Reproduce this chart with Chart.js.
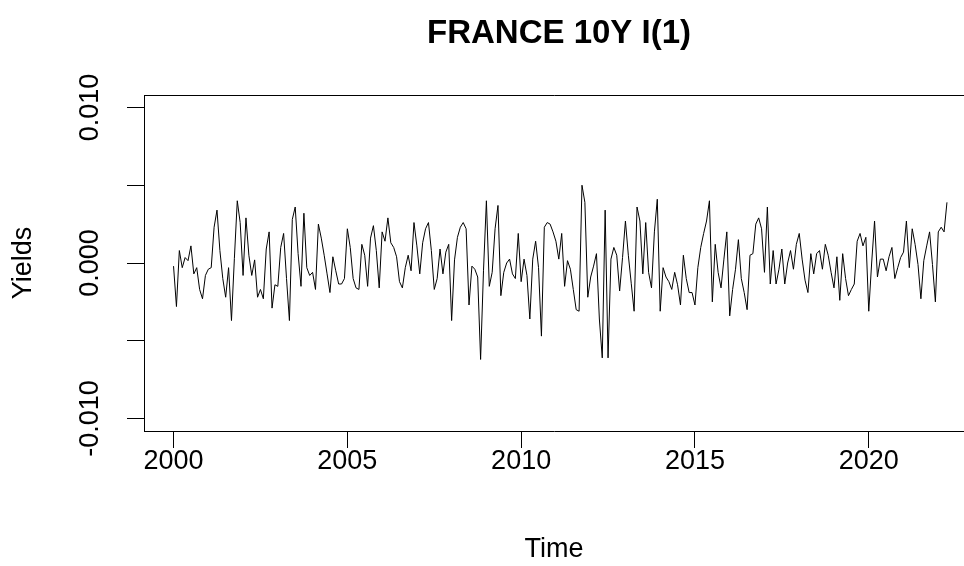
<!DOCTYPE html>
<html>
<head>
<meta charset="utf-8">
<script src="https://cdn.jsdelivr.net/npm/chart.js@4/dist/chart.umd.min.js"></script>
<style>
  html, body { margin: 0; padding: 0; background: #fff; overflow: hidden; }
  #wrap { width: 964px; height: 566px; position: relative; }
</style>
</head>
<body>
<div id="wrap"><canvas id="c" width="964" height="566"></canvas></div>
<script>
// Text
const chartTitle = 'FRANCE 10Y I(1)';
const xAxisTitle = 'Time';
const yAxisTitle = 'Yields';

// Monthly series, first observation January 2000
const startYear = 2000;
const periodsPerYear = 12;

// Axis ticks
const xTickValues = [2000, 2005, 2010, 2015, 2020];
const yTickValues = [-0.010, -0.005, 0.000, 0.005, 0.010];
const yTickLabels = ['-0.010', '', '0.000', '', '0.010'];

// First differences of the French 10Y yield, one row per year
const yields = [
  -0.0002, -0.0028, 0.0008, -0.0003, 0.00035, 0.00015, 0.0011, -0.0007, -0.0003, -0.0017, -0.0023, -0.0008,
  -0.0004, -0.0003, 0.0023, 0.0034, 0.0008, -0.0010, -0.0022, -0.0003, -0.0037, 0.0003, 0.0040, 0.0026,
  -0.0008, 0.0029, 0.0005, -0.0008, 0.0002, -0.0022, -0.0017, -0.0023, 0.0009, 0.0020, -0.0029, -0.0014,
  -0.0015, 0.0010, 0.0019, -0.0010, -0.0037, 0.0028, 0.0036, 0.0006, -0.0015, 0.0032, -0.0003, -0.0008,
  -0.0006, -0.0017, 0.0025, 0.0016, 0.0005, -0.0007, -0.0019, 0.0004, -0.0005, -0.00135, -0.00135, -0.0010,
  0.0022, 0.0010, -0.0010, -0.0016, -0.0017, 0.0012, 0.0005, -0.0015, 0.0016, 0.0024, 0.0008, -0.0016,
  0.0020, 0.0014, 0.0029, 0.0013, 0.0010, 0.0004, -0.0012, -0.0016, -0.0003, 0.0005, -0.0005, 0.0026,
  0.0011, -0.0007, 0.0013, 0.0022, 0.0026, 0.0008, -0.0017, -0.0010, 0.0009, -0.0007, 0.0007, 0.0012,
  -0.0037, 0.0002, 0.00165, 0.0023, 0.0026, 0.0022, -0.0027, -0.0002, -0.0004, -0.0009, -0.0062, -0.0005,
  0.0040, -0.0015, -0.0006, 0.0022, 0.0037, -0.0021, -0.0006, 0.0000, 0.00025, -0.0007, -0.0010, 0.0019,
  -0.0012, 0.00025, -0.0008, -0.0036, 0.00025, 0.0014, -0.0003, -0.0047, 0.0023, 0.0026, 0.0025, 0.0020,
  0.0014, 0.00025, 0.0019, -0.0015, 0.00015, -0.0004, -0.0017, -0.0030, -0.0031, 0.0050, 0.0039, -0.0022,
  -0.0009, -0.0002, 0.0006, -0.0036, -0.0061, 0.0034, -0.0061, 0.00025, 0.0010, 0.0005, -0.0018, 0.00035,
  0.0027, 0.0005, -0.0013, -0.0031, 0.0036, 0.0027, -0.0007, 0.0026, -0.0006, -0.0016, 0.0020, 0.0041,
  -0.0031, -0.0003, -0.0009, -0.0012, -0.0017, -0.0006, -0.0014, -0.0027, 0.0005, -0.0010, -0.0019, -0.0019,
  -0.0027, -0.0003, 0.0010, 0.0019, 0.0027, 0.0040, -0.0025, 0.0012, -0.0006, -0.0016, 0.00025, 0.0020,
  -0.0034, -0.0017, -0.0004, 0.0015, -0.0010, -0.0019, -0.0030, 0.0005, 0.0006, 0.0025, 0.0029, 0.0022,
  -0.0006, 0.0036, -0.00135, 0.0008, -0.00135, -0.0004, 0.0009, -0.00135, 0.0000, 0.0008, -0.0004, 0.0012,
  0.0019, 0.00025, -0.0011, -0.0019, 0.0006, -0.0007, 0.0006, 0.0008, -0.0004, 0.0012, 0.0005, -0.0006,
  -0.0016, 0.0004, -0.0024, 0.0006, -0.0010, -0.0021, -0.0017, -0.00135, 0.0014, 0.0019, 0.0011, 0.00165,
  -0.0031, 0.0000, 0.0027, -0.0009, 0.00025, 0.00025, -0.0005, 0.0004, 0.0010, -0.0010, -0.0003, 0.00035,
  0.0007, 0.0027, -0.0003, 0.0022, 0.0012, -0.0001, -0.0023, 0.00015, 0.0011, 0.0020, -0.0001, -0.0025,
  0.0020, 0.0023, 0.0020, 0.0039
];

const points = yields.map((v, i) => ({ x: startYear + i / periodsPerYear, y: v }));

const FONT = "'Liberation Sans', Arial, Helvetica, sans-serif";

// Plot frame (top edge) plus rotated y tick labels and the main title
const framePlugin = {
  id: 'frame',
  afterDraw(chart) {
    const { ctx, chartArea } = chart;
    const yScale = chart.scales.y;
    ctx.save();
    ctx.strokeStyle = '#000';
    ctx.lineWidth = 1;
    ctx.beginPath();
    ctx.moveTo(chartArea.left + 0.5, chartArea.top + 0.5);
    ctx.lineTo(chartArea.right, chartArea.top + 0.5);
    ctx.stroke();

    ctx.fillStyle = '#000';
    ctx.font = '27px ' + FONT;
    ctx.textAlign = 'center';
    ctx.textBaseline = 'middle';
    yTickValues.forEach((v, i) => {
      if (!yTickLabels[i]) return;
      const py = yScale.getPixelForValue(v);
      ctx.save();
      ctx.translate(91, py);
      ctx.rotate(-Math.PI / 2);
      ctx.fillText(yTickLabels[i], 0, 0);
      ctx.restore();
    });

    ctx.font = 'bold 33px ' + FONT;
    ctx.textBaseline = 'alphabetic';
    ctx.fillText(chartTitle, 559, 43);
    ctx.restore();
  }
};

new Chart(document.getElementById('c'), {
  type: 'line',
  data: {
    datasets: [{
      data: points,
      borderColor: '#000',
      borderWidth: 1,
      pointRadius: 0,
      tension: 0,
      fill: false
    }]
  },
  options: {
    responsive: false,
    animation: false,
    devicePixelRatio: 1,
    layout: { padding: { top: 95, left: 0, right: 0, bottom: 0 } },
    plugins: { legend: { display: false }, tooltip: { enabled: false }, title: { display: false } },
    scales: {
      x: {
        type: 'linear',
        min: 1999.15,
        max: 2022.74,
        afterBuildTicks: s => { s.ticks = xTickValues.map(v => ({ value: v })); },
        afterFit: s => { s.height = 135; },
        grid: { drawOnChartArea: false, drawTicks: true, tickLength: 17, color: '#000', tickWidth: 1 },
        border: { display: true, color: '#000', width: 1 },
        ticks: {
          autoSkip: false, maxRotation: 0, minRotation: 0, padding: 0, color: '#000',
          font: { family: FONT, size: 27, lineHeight: 1 },
          callback: v => String(v)
        },
        title: {
          display: true, text: xAxisTitle, color: '#000',
          font: { family: FONT, size: 27, lineHeight: 1 },
          padding: { top: 0, bottom: 3 }
        }
      },
      y: {
        type: 'linear',
        min: -0.0108,
        max: 0.0108,
        afterBuildTicks: s => { s.ticks = yTickValues.map(v => ({ value: v })); },
        afterFit: s => { s.width = 144; },
        grid: { drawOnChartArea: false, drawTicks: true, tickLength: 17, color: '#000', tickWidth: 1 },
        border: { display: true, color: '#000', width: 1 },
        ticks: { display: false },
        title: {
          display: true, text: yAxisTitle, color: '#000',
          font: { family: FONT, size: 27, lineHeight: 1 },
          padding: { top: 10, bottom: 0 }
        }
      }
    }
  },
  plugins: [framePlugin]
});
</script>
</body>
</html>
